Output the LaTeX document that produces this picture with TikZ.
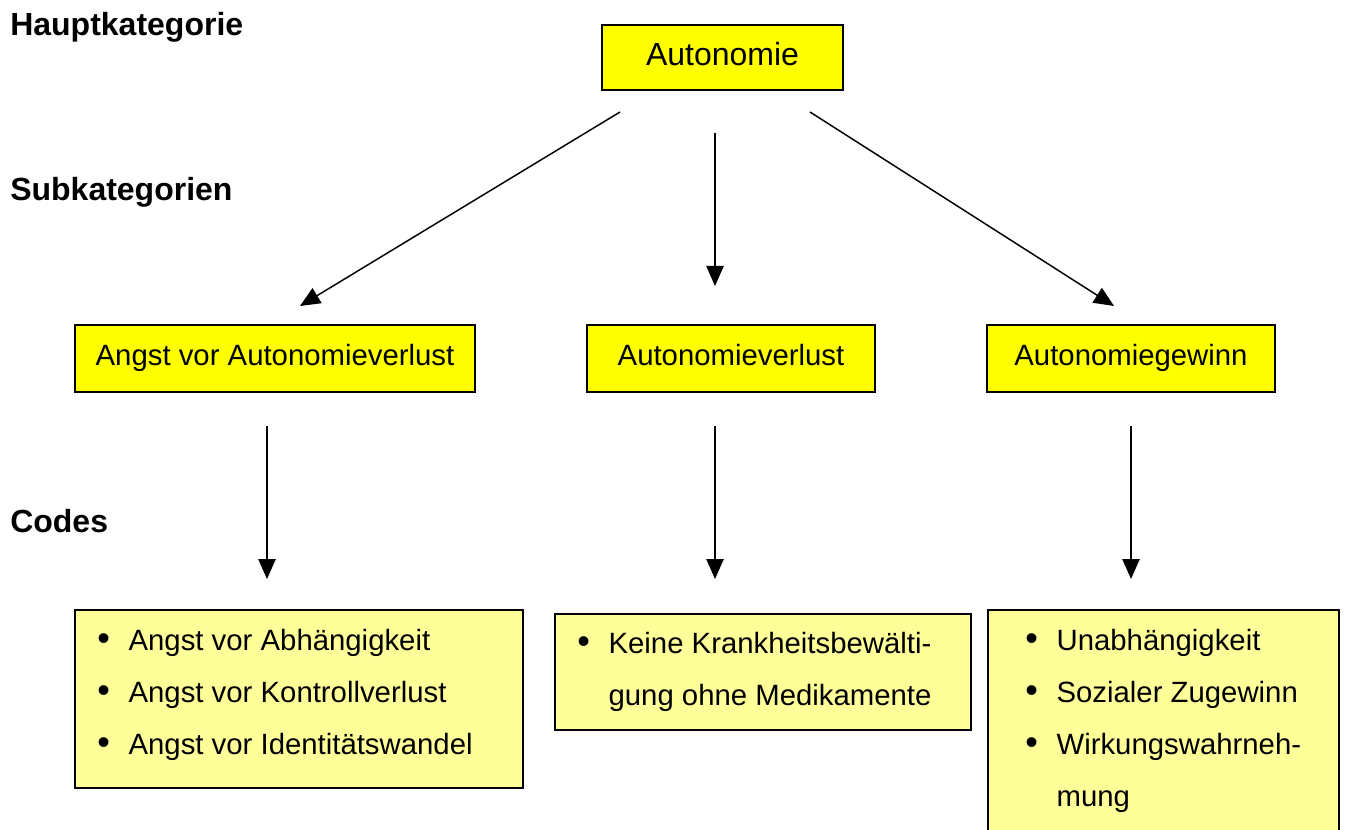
\documentclass[tikz,border=0pt]{standalone}
\usepackage{fontspec}
\setmainfont{Liberation Sans}
\usetikzlibrary{arrows.meta}
\definecolor{boxyellow}{RGB}{255,255,0}
\definecolor{codeyellow}{RGB}{255,255,153}
\newcommand{\bul}{\makebox[23.5pt][l]{\raisebox{-0.5pt}{\fontsize{27}{27}\selectfont\textbullet}}}
\newcommand{\nobul}{\makebox[23.5pt][l]{}}
\begin{document}
\begin{tikzpicture}[x=0.75pt,y=-0.75pt,
  catbox/.style={draw=black, line width=1pt, fill=boxyellow, inner sep=0pt,
    font=\fontsize{22}{26}\selectfont, text height=16pt, text depth=5pt},
  mainbox/.style={catbox, font=\fontsize{24}{28}\selectfont, text height=18pt, text depth=5.5pt},
  codebox/.style={draw=black, line width=1pt, fill=codeyellow, inner sep=0pt},
  codetext/.style={font=\fontsize{22}{39}\selectfont, align=left, inner sep=0pt, anchor=base west},
  levellabel/.style={font=\fontsize{24}{28}\selectfont\bfseries, inner sep=0pt, anchor=base west},
  conn/.style={line width=1.1pt, -{Triangle[length=15pt,width=13pt]}}
]
\useasboundingbox (0,0) rectangle (1346,830);
\clip (0,0) rectangle (1346,830);

% level labels
\node[levellabel] (lh) at (10,36) {Hauptkategorie};
\node[levellabel] (ls) at (10,201) {Subkategorien};
\node[levellabel] (lc) at (10,532) {Codes};

% main category
\node[mainbox, minimum width=241*0.75pt, minimum height=65*0.75pt] (main) at (722.5,57.5) {Autonomie};

% subcategories
\node[catbox, minimum width=400*0.75pt, minimum height=67*0.75pt] (s1) at (275,358.5) {Angst vor Autonomieverlust};
\node[catbox, minimum width=288*0.75pt, minimum height=67*0.75pt] (s2) at (731,358.5) {Autonomieverlust};
\node[catbox, minimum width=288*0.75pt, minimum height=67*0.75pt] (s3) at (1131,358.5) {Autonomiegewinn};

% code boxes
\node[codebox, minimum width=448*0.75pt, minimum height=178*0.75pt] (c1) at (299,699) {};
\node[codebox, minimum width=416*0.75pt, minimum height=116*0.75pt] (c2) at (763,672) {};
\node[codebox, minimum width=351*0.75pt, minimum height=240*0.75pt] (c3) at (1163.5,730) {};

% texts (base anchor = baseline of last line)
\node[codetext] (t1) at (97,754) {\bul Angst vor Abhängigkeit\\ \bul Angst vor Kontrollverlust\\ \bul Angst vor Identitätswandel};
\node[codetext] (t2) at (577,705) {\bul Keine Krankheitsbewälti-\\ \nobul gung ohne Medikamente};
\node[codetext] (t3) at (1025,806) {\bul Unabhängigkeit\\ \bul Sozialer Zugewinn\\ \bul Wirkungswahrneh-\\ \nobul mung};

% connector end points
\coordinate (m1) at (620,112);
\coordinate (m2) at (715,133);
\coordinate (m3) at (810,112);
\coordinate (e1) at (300,306);
\coordinate (e2) at (715,286);
\coordinate (e3) at (1114,306);
\coordinate (s1b) at (267,426);
\coordinate (s2b) at (715,426);
\coordinate (s3b) at (1131,426);
\coordinate (c1t) at (267,579);
\coordinate (c2t) at (715,579);
\coordinate (c3t) at (1131,579);

\draw[conn] (m1) -- (e1);
\draw[conn] (m2) -- (e2);
\draw[conn] (m3) -- (e3);
\draw[conn] (s1b) -- (c1t);
\draw[conn] (s2b) -- (c2t);
\draw[conn] (s3b) -- (c3t);
\end{tikzpicture}
\end{document}
